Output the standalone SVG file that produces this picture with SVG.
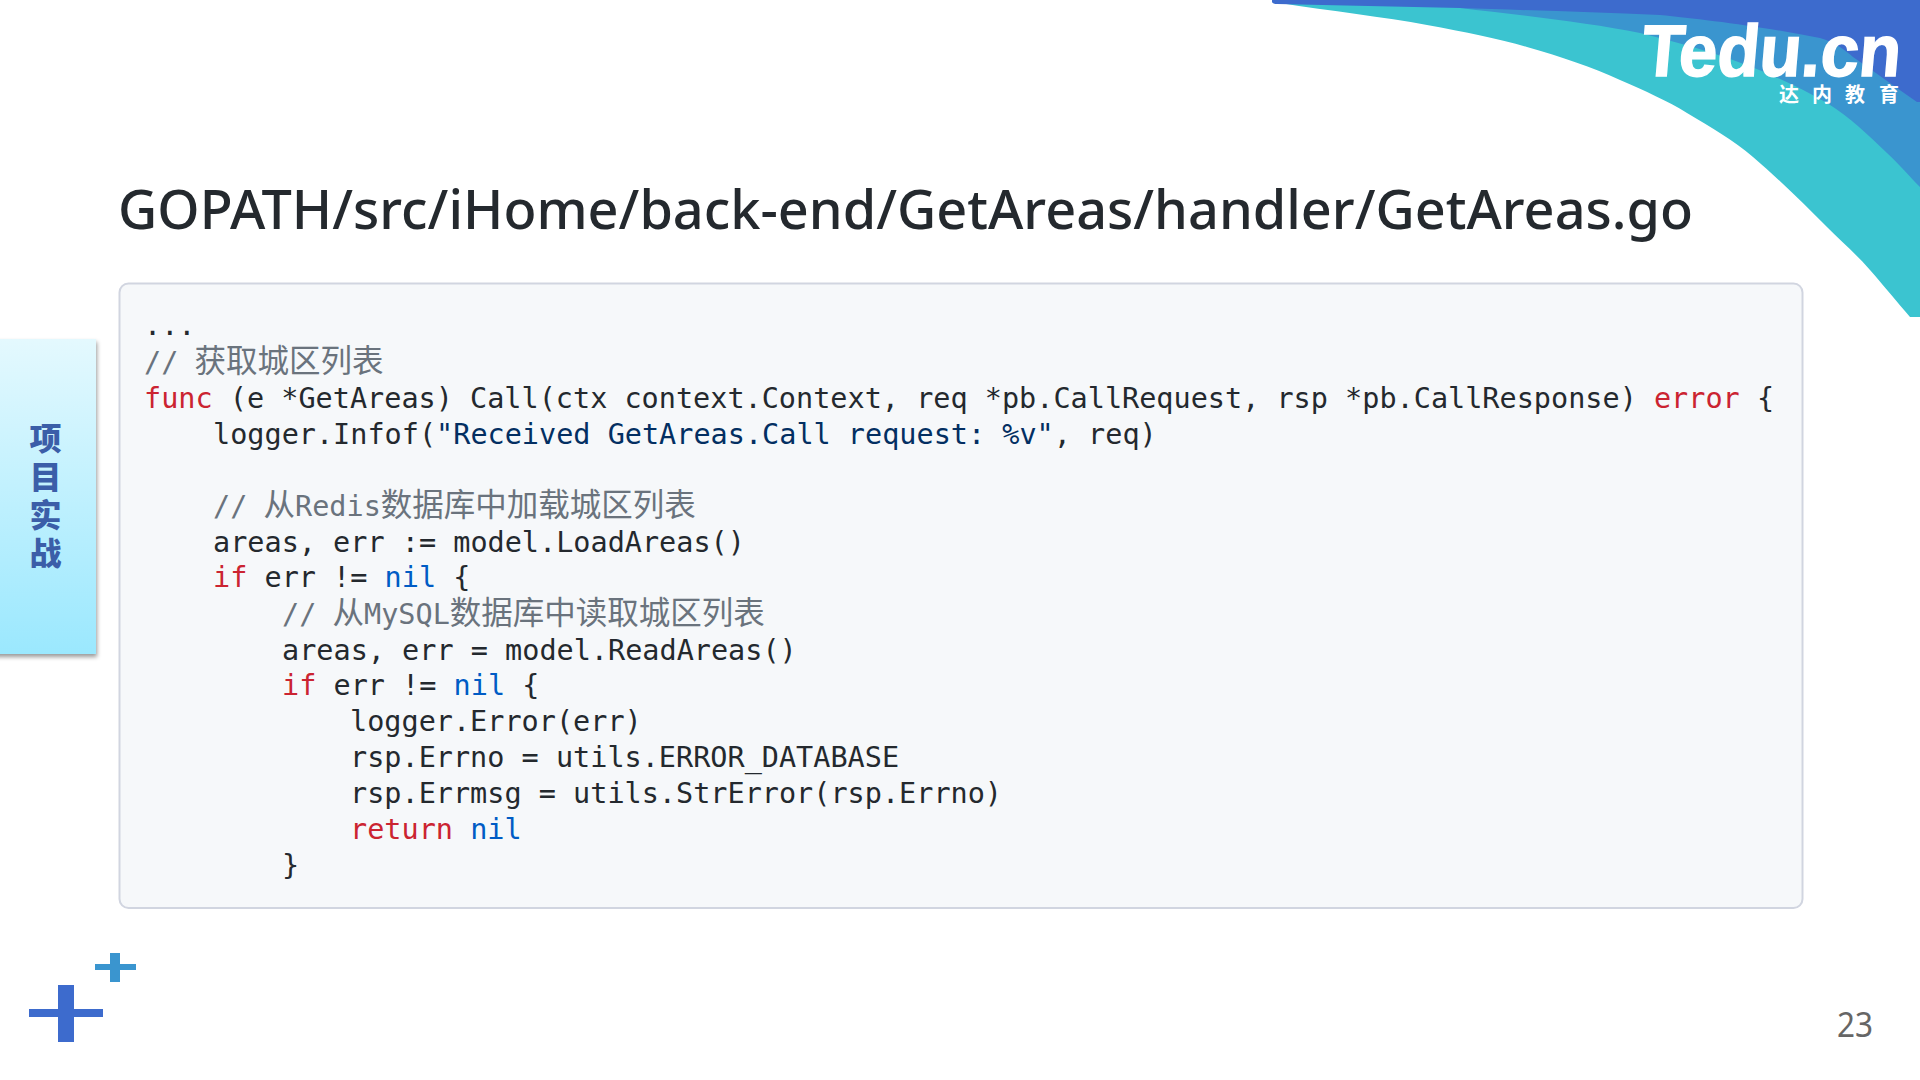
<svg xmlns="http://www.w3.org/2000/svg" width="1920" height="1080" viewBox="0 0 1920 1080">
<style>
.code{font-family:"DejaVu Sans Mono","Liberation Mono",monospace;font-size:28.5px;fill:#24292e}
.k{fill:#cb2431}.n{fill:#005cc5}.s{fill:#032f62}.c{fill:#6a737d}
.z{font-family:"Noto Sans CJK SC",sans-serif;font-size:31.5px}
</style>
<defs>
<linearGradient id="tab" x1="0" y1="0" x2="0" y2="1"><stop offset="0" stop-color="#e4f9fe"/><stop offset="1" stop-color="#9be8fe"/></linearGradient>
<filter id="sh" x="-10%" y="-5%" width="125%" height="112%"><feDropShadow dx="1" dy="3" stdDeviation="2" flood-color="#000" flood-opacity="0.4"/></filter>
</defs>
<rect width="1920" height="1080" fill="#fff"/>
<g id="corner">
<path fill="#3bc4d0" d="M1280 3C1330 11 1385 17 1427 25C1465 32 1500 39 1527 47C1562 57 1592 67 1620 80C1645 91 1668 101 1687 113C1712 128 1733 140 1753 157C1780 180 1805 205 1827 227C1842 242 1857 255 1870 270C1885 287 1897 302 1910 317L1920 317L1920 0Z"/>
<path fill="#3a95cf" d="M1460 8C1520 15 1590 23 1640 33C1710 50 1770 70 1827 103C1850 117 1868 135 1887 153C1900 165 1910 177 1920 187L1920 0L1460 0Z"/>
<path fill="#3d6bcd" d="M1272 0L1272 2Q1273 4 1277 4L1460 8C1520 10 1590 12 1660 15C1700 19 1760 26 1820 38C1835 42 1845 50 1853 57C1875 72 1895 87 1917 102L1920 102L1920 0Z"/>
</g>
<g id="logo" fill="#fff">
<text x="1640" y="76" transform="translate(7 0) skewX(-5)" font-family="Liberation Sans,sans-serif" font-weight="700" font-size="73" stroke="#fff" stroke-width="1.5" textLength="259" lengthAdjust="spacingAndGlyphs">Tedu.cn</text>
<text x="1779 1812 1845 1879" y="102" font-family="Noto Sans CJK SC,sans-serif" font-weight="700" font-size="20">达内教育</text>
</g>
<text id="title" x="118" y="229" font-family="Noto Sans,sans-serif" font-weight="500" font-size="54" fill="#24292e" textLength="1575" lengthAdjust="spacingAndGlyphs">GOPATH/src/iHome/back-end/GetAreas/handler/GetAreas.go</text>
<g id="side-tab">
<rect x="-6" y="339" width="102" height="315" fill="url(#tab)" filter="url(#sh)"/>
<text text-anchor="middle" font-family="Noto Sans CJK SC,sans-serif" font-weight="900" font-size="32" fill="#3b5ea8"><tspan x="45.5" y="450">项</tspan><tspan x="45.5" y="489">目</tspan><tspan x="45.5" y="527">实</tspan><tspan x="45.5" y="565">战</tspan></text>
</g>
<g id="code-box">
<rect x="119.5" y="283.5" width="1683" height="624.5" rx="9" fill="#f6f8fa" stroke="#d1d5e0" stroke-width="2"/>
<text class="code" x="144" y="335">...</text>
<text class="code c" x="144" y="372">// <tspan class="z" dx="-1">获取城区列表</tspan></text>
<text class="code" x="144" y="408"><tspan class="k">func</tspan> (e *GetAreas) Call(ctx context.Context, req *pb.CallRequest, rsp *pb.CallResponse) <tspan class="k">error</tspan> {</text>
<text class="code" x="213" y="443.5">logger.Infof(<tspan class="s">"Received GetAreas.Call request: %v"</tspan>, req)</text>
<text class="code c" x="213" y="516">// <tspan class="z" dx="-1">从</tspan>Redis<tspan class="z">数据库中加载城区列表</tspan></text>
<text class="code" x="213" y="551.5">areas, err := model.LoadAreas()</text>
<text class="code" x="213" y="587"><tspan class="k">if</tspan> err != <tspan class="n">nil</tspan> {</text>
<text class="code c" x="282" y="624">// <tspan class="z" dx="-1">从</tspan>MySQL<tspan class="z">数据库中读取城区列表</tspan></text>
<text class="code" x="282" y="659.5">areas, err = model.ReadAreas()</text>
<text class="code" x="282" y="695"><tspan class="k">if</tspan> err != <tspan class="n">nil</tspan> {</text>
<text class="code" x="350" y="731">logger.Error(err)</text>
<text class="code" x="350" y="766.5">rsp.Errno = utils.ERROR_DATABASE</text>
<text class="code" x="350" y="802.5">rsp.Errmsg = utils.StrError(rsp.Errno)</text>
<text class="code" x="350" y="839"><tspan class="k">return</tspan> <tspan class="n">nil</tspan></text>
<text class="code" x="282" y="875">}</text>
</g>
<g id="plus-large" fill="#3d6bcd"><rect x="29" y="1009" width="74" height="8"/><rect x="58" y="985" width="16" height="57"/></g>
<g id="plus-small" fill="#3a95cf"><rect x="95" y="964" width="41" height="6"/><rect x="110" y="953" width="10" height="29"/></g>
<text id="page" x="1837" y="1037" font-family="Noto Sans,sans-serif" font-size="35" fill="#666" textLength="36" lengthAdjust="spacingAndGlyphs">23</text>
</svg>
